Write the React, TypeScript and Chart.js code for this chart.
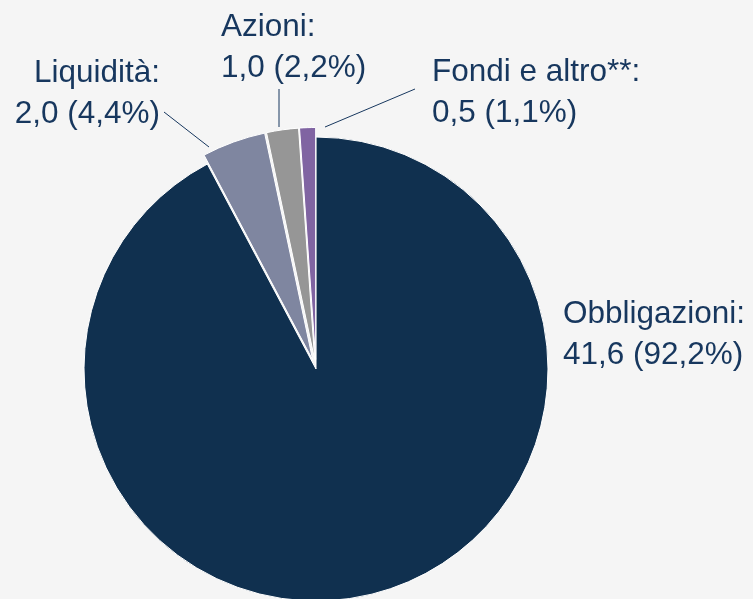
import React, { useEffect, useRef } from "react";
import Chart from "chart.js/auto";

const categories = ["Obbligazioni", "Liquidità", "Azioni", "Fondi e altro**"];
const values = [41.6, 2.0, 1.0, 0.5];
const percents = [92.2, 4.4, 2.2, 1.1];
const sliceColors = ["#10304f", "#7f86a0", "#969696", "#8064a2"];
const explodePx = [0, 9.5, 9.5, 9.5];

// label layout, relative to pie centre
const labelAlign = ["left", "right", "left", "left"];
const labelPos = [
  [247, -46],
  [-156, -287],
  [-95, -333],
  [116, -288],
];
const leaderLines: (number[] | null)[] = [
  null,
  [-152, -257, -107, -222],
  [-37, -280, -37, -242],
  [99, -280, 9, -242],
];

const TEXT_COLOR = "#17375e";
const BG = "#f5f5f5";
const FONT = '31.5px "Liberation Sans", Arial, sans-serif';
const LINE_GAP = 41;

const fmt = (v: number) => v.toFixed(1).replace(".", ",");

const explodePlugin = {
  id: "explodeSlices",
  beforeDatasetsDraw(chart: any) {
    const meta = chart.getDatasetMeta(0);
    meta.data.forEach((arc: any, i: number) => {
      const d = explodePx[i] || 0;
      if (!d || arc.__wrapped) return;
      const orig = arc.draw.bind(arc);
      arc.draw = (ctx: CanvasRenderingContext2D, area: any) => {
        const half = (arc.startAngle + arc.endAngle) / 2;
        ctx.save();
        ctx.translate(Math.cos(half) * d, Math.sin(half) * d);
        orig(ctx, area);
        ctx.restore();
      };
      arc.__wrapped = true;
    });
  },
};

const labelPlugin = {
  id: "pieLabels",
  afterDatasetsDraw(chart: any) {
    const meta = chart.getDatasetMeta(0);
    const arc0 = meta.data[0];
    if (!arc0) return;
    const cx = arc0.x;
    const cy = arc0.y;
    const ctx: CanvasRenderingContext2D = chart.ctx;
    ctx.save();
    ctx.strokeStyle = TEXT_COLOR;
    ctx.lineWidth = 1;
    leaderLines.forEach((l) => {
      if (!l) return;
      ctx.beginPath();
      ctx.moveTo(cx + l[0], cy + l[1]);
      ctx.lineTo(cx + l[2], cy + l[3]);
      ctx.stroke();
    });
    ctx.fillStyle = TEXT_COLOR;
    ctx.font = FONT;
    ctx.textBaseline = "alphabetic";
    categories.forEach((c, i) => {
      ctx.textAlign = labelAlign[i] as CanvasTextAlign;
      const x = cx + labelPos[i][0];
      const y = cy + labelPos[i][1];
      ctx.fillText(c + ":", x, y);
      ctx.fillText(`${fmt(values[i])} (${fmt(percents[i])}%)`, x, y + LINE_GAP);
    });
    ctx.restore();
  },
};

export default function App() {
  const ref = useRef<HTMLCanvasElement | null>(null);
  useEffect(() => {
    document.body.style.margin = "0";
    document.body.style.background = BG;
    if (!ref.current) return;
    const chart = new Chart(ref.current, {
      type: "pie",
      data: {
        labels: categories,
        datasets: [
          {
            data: values,
            backgroundColor: sliceColors,
            borderColor: "#ffffff",
            borderWidth: 1,
            clip: false as any,
          },
        ],
      },
      options: {
        responsive: false,
        animation: false,
        radius: 232,
        layout: { padding: { left: 0, right: 121, top: 139, bottom: 0 } },
        plugins: {
          legend: { display: false },
          tooltip: { enabled: false },
        },
      } as any,
      plugins: [explodePlugin, labelPlugin],
    });
    return () => chart.destroy();
  }, []);
  return (
    <div style={{ width: 753, height: 599, background: BG, overflow: "hidden" }}>
      <canvas ref={ref} width={753} height={599} style={{ display: "block" }} />
    </div>
  );
}
